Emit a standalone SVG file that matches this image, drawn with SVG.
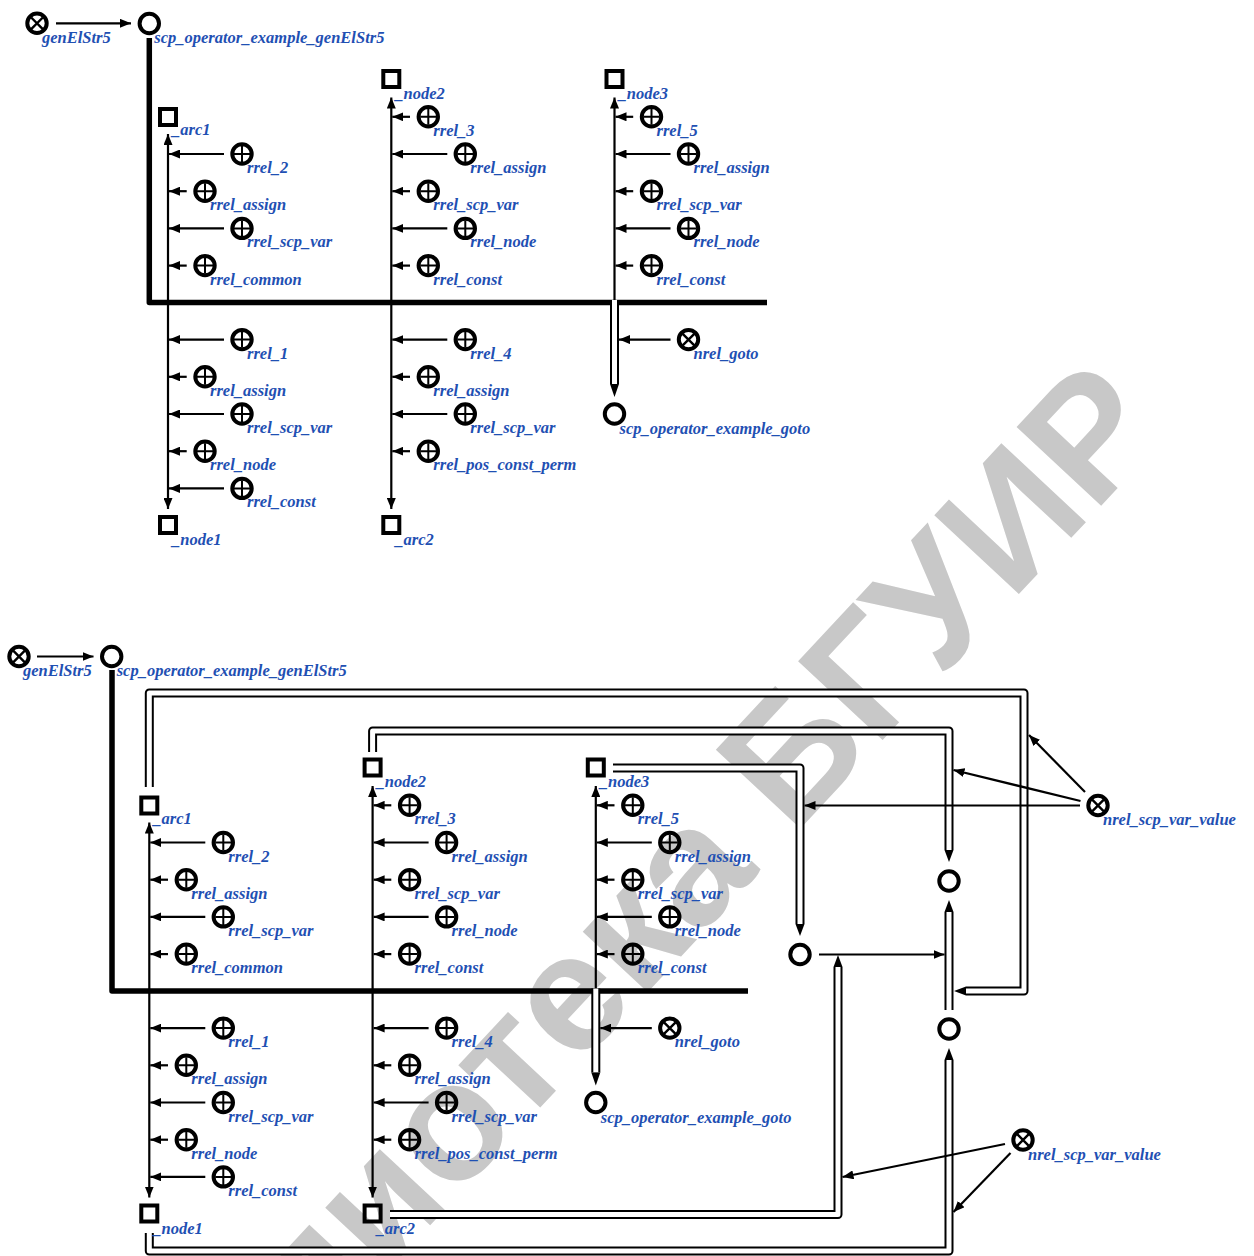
<svg xmlns="http://www.w3.org/2000/svg" xmlns:xlink="http://www.w3.org/1999/xlink" width="1254" height="1256" viewBox="0 0 1254 1256">
<style>
.lbl{font-family:"Liberation Serif","Times New Roman",serif;font-weight:bold;font-style:italic;font-size:16.5px;fill:#1f50b3}
.wm{font-family:"Liberation Sans",Arial,sans-serif;font-weight:bold;font-size:168px;fill:#c8c8c8}
.ring{fill:none;stroke:#000;stroke-width:4}
.in{fill:none;stroke:#000;stroke-width:2}
.arc{fill:none;stroke:#000;stroke-width:2.2;marker-end:url(#ah)}
.arc2{fill:none;stroke:#000;stroke-width:2.2;marker-end:url(#ah);marker-start:url(#ah)}
.thick{fill:none;stroke:#000;stroke-width:5.5;stroke-linejoin:round}
.dlb{fill:none;stroke:#000;stroke-width:9;stroke-linejoin:round}
.dlw{fill:none;stroke:#fff;stroke-width:5;stroke-linejoin:round}
.tri{fill:#000}
</style>
<defs>
<marker id="ah" markerUnits="userSpaceOnUse" markerWidth="11" markerHeight="9" refX="11" refY="4.5" orient="auto-start-reverse"><path d="M0,0 L11,4.5 L0,9 z" fill="#000"/></marker>
<g id="s-plus"><circle r="9.7" class="ring"/><path d="M-8,0 H8 M0,-8 V8" class="in"/></g>
<g id="s-x"><circle r="9.7" class="ring"/><path d="M-5.8,-5.8 L5.8,5.8 M-5.8,5.8 L5.8,-5.8" class="in" style="stroke-width:2.4"/></g>
<g id="s-o"><circle r="9.7" class="ring"/></g>
<g id="s-sq"><rect x="-8" y="-8" width="16" height="16" class="ring"/></g>
</defs>
<rect width="1254" height="1256" fill="#fff"/>
<text class="wm" text-anchor="end" transform="translate(1170,432) rotate(-47)">Библиотека БГУИР</text>

<!-- ===== TOP DIAGRAM ===== -->
<g id="top-connectors">
<path class="arc" d="M56,23.3 H131"/>
<path class="thick" d="M149.3,38 V302.5 H767"/>
<path class="arc2" d="M168,134 V509"/>
<path class="arc2" d="M391.3,97.5 V509"/>
<path class="arc" d="M614.5,302 V97.5"/>
<path class="dlb" d="M614.5,300 V384"/><path class="dlw" d="M614.5,300 V384"/>
<path class="tri" d="M610,384 L619,384 L614.5,397 z"/>
<path class="arc" d="M224,154 H169"/>
<path class="arc" d="M186.7,191.2 H169"/>
<path class="arc" d="M224,228.4 H169"/>
<path class="arc" d="M186.7,265.6 H169"/>
<path class="arc" d="M224,339.6 H169"/>
<path class="arc" d="M186.7,376.8 H169"/>
<path class="arc" d="M224,414 H169"/>
<path class="arc" d="M186.7,451.2 H169"/>
<path class="arc" d="M224,488.4 H169"/>
<path class="arc" d="M410,116.8 H392.3"/>
<path class="arc" d="M447.3,154 H392.3"/>
<path class="arc" d="M410,191.2 H392.3"/>
<path class="arc" d="M447.3,228.4 H392.3"/>
<path class="arc" d="M410,265.6 H392.3"/>
<path class="arc" d="M447.3,339.6 H392.3"/>
<path class="arc" d="M410,376.8 H392.3"/>
<path class="arc" d="M447.3,414 H392.3"/>
<path class="arc" d="M410,451.2 H392.3"/>
<path class="arc" d="M633.2,116.8 H615.5"/>
<path class="arc" d="M670.5,154 H615.5"/>
<path class="arc" d="M633.2,191.2 H615.5"/>
<path class="arc" d="M670.5,228.4 H615.5"/>
<path class="arc" d="M633.2,265.6 H615.5"/>
<path class="arc" d="M670.5,339.6 H619"/>
</g>
<g id="top-nodes">
<g id="t-genElStr5" transform="translate(37,23.3)"><use href="#s-x"/><text class="lbl" x="5" y="20">genElStr5</text></g>
<g id="t-scp-op" transform="translate(149.3,23.5)"><use href="#s-o"/><text class="lbl" x="5" y="19">scp_operator_example_genElStr5</text></g>
<g id="t-arc1" transform="translate(168,117)"><use href="#s-sq"/><text class="lbl" x="4" y="18">_arc1</text></g>
<g id="t-c1-rrel_2" transform="translate(242,154)"><use href="#s-plus"/><text class="lbl" x="5" y="19">rrel_2</text></g>
<g id="t-c1-assign" transform="translate(205,191.2)"><use href="#s-plus"/><text class="lbl" x="5" y="19">rrel_assign</text></g>
<g id="t-c1-scpvar" transform="translate(242,228.4)"><use href="#s-plus"/><text class="lbl" x="5" y="19">rrel_scp_var</text></g>
<g id="t-c1-common" transform="translate(205,265.6)"><use href="#s-plus"/><text class="lbl" x="5" y="19">rrel_common</text></g>
<g id="t-c1-rrel_1" transform="translate(242,339.6)"><use href="#s-plus"/><text class="lbl" x="5" y="19">rrel_1</text></g>
<g id="t-c1-assign2" transform="translate(205,376.8)"><use href="#s-plus"/><text class="lbl" x="5" y="19">rrel_assign</text></g>
<g id="t-c1-scpvar2" transform="translate(242,414)"><use href="#s-plus"/><text class="lbl" x="5" y="19">rrel_scp_var</text></g>
<g id="t-c1-node" transform="translate(205,451.2)"><use href="#s-plus"/><text class="lbl" x="5" y="19">rrel_node</text></g>
<g id="t-c1-const" transform="translate(242,488.4)"><use href="#s-plus"/><text class="lbl" x="5" y="19">rrel_const</text></g>
<g id="t-node1" transform="translate(168,525)"><use href="#s-sq"/><text class="lbl" x="4" y="20">_node1</text></g>
<g id="t-node2" transform="translate(391.3,79)"><use href="#s-sq"/><text class="lbl" x="4" y="19.5">_node2</text></g>
<g id="t-c2-rrel_3" transform="translate(428.3,116.8)"><use href="#s-plus"/><text class="lbl" x="5" y="19">rrel_3</text></g>
<g id="t-c2-assign" transform="translate(465.3,154)"><use href="#s-plus"/><text class="lbl" x="5" y="19">rrel_assign</text></g>
<g id="t-c2-scpvar" transform="translate(428.3,191.2)"><use href="#s-plus"/><text class="lbl" x="5" y="19">rrel_scp_var</text></g>
<g id="t-c2-node" transform="translate(465.3,228.4)"><use href="#s-plus"/><text class="lbl" x="5" y="19">rrel_node</text></g>
<g id="t-c2-const" transform="translate(428.3,265.6)"><use href="#s-plus"/><text class="lbl" x="5" y="19">rrel_const</text></g>
<g id="t-c2-rrel_4" transform="translate(465.3,339.6)"><use href="#s-plus"/><text class="lbl" x="5" y="19">rrel_4</text></g>
<g id="t-c2-assign2" transform="translate(428.3,376.8)"><use href="#s-plus"/><text class="lbl" x="5" y="19">rrel_assign</text></g>
<g id="t-c2-scpvar2" transform="translate(465.3,414)"><use href="#s-plus"/><text class="lbl" x="5" y="19">rrel_scp_var</text></g>
<g id="t-c2-pcp" transform="translate(428.3,451.2)"><use href="#s-plus"/><text class="lbl" x="5" y="19">rrel_pos_const_perm</text></g>
<g id="t-arc2" transform="translate(391.3,525)"><use href="#s-sq"/><text class="lbl" x="4" y="20">_arc2</text></g>
<g id="t-node3" transform="translate(614.5,79)"><use href="#s-sq"/><text class="lbl" x="4" y="19.5">_node3</text></g>
<g id="t-c3-rrel_5" transform="translate(651.5,116.8)"><use href="#s-plus"/><text class="lbl" x="5" y="19">rrel_5</text></g>
<g id="t-c3-assign" transform="translate(688.5,154)"><use href="#s-plus"/><text class="lbl" x="5" y="19">rrel_assign</text></g>
<g id="t-c3-scpvar" transform="translate(651.5,191.2)"><use href="#s-plus"/><text class="lbl" x="5" y="19">rrel_scp_var</text></g>
<g id="t-c3-node" transform="translate(688.5,228.4)"><use href="#s-plus"/><text class="lbl" x="5" y="19">rrel_node</text></g>
<g id="t-c3-const" transform="translate(651.5,265.6)"><use href="#s-plus"/><text class="lbl" x="5" y="19">rrel_const</text></g>
<g id="t-nrel_goto" transform="translate(688.5,339.6)"><use href="#s-x"/><text class="lbl" x="5" y="19">nrel_goto</text></g>
<g id="t-goto" transform="translate(614.5,414)"><use href="#s-o"/><text class="lbl" x="5" y="20">scp_operator_example_goto</text></g>
</g>

<!-- ===== BOTTOM DIAGRAM ===== -->
<g id="bottom-connectors">
<path class="arc" d="M37,656.5 H93.5"/>
<path class="thick" d="M112,670 V991 H748"/>
<path class="dlb" d="M149.3,787 V693 H1024 V991 H966"/><path class="dlw" d="M149.3,787 V693 H1024 V991 H966"/>
<path class="tri" d="M966,986.5 L966,995.5 L954,991 z"/>
<path class="dlb" d="M372.6,752 V731 H949 V850"/><path class="dlw" d="M372.6,752 V731 H949 V850"/>
<path class="tri" d="M944.5,850 L953.5,850 L949,862 z"/>
<path class="dlb" d="M613,768 H800 V924"/><path class="dlw" d="M613,768 H800 V924"/>
<path class="tri" d="M795.5,924 L804.5,924 L800,936 z"/>
<path class="dlb" d="M390,1214.5 H838 V967"/><path class="dlw" d="M390,1214.5 H838 V967"/>
<path class="tri" d="M833.5,967 L842.5,967 L838,955 z"/>
<path class="dlb" d="M949,1010 V912"/><path class="dlw" d="M949,1010 V912"/>
<path class="tri" d="M944.5,912 L953.5,912 L949,900 z"/>
<path class="dlb" d="M149.3,1233 V1251 H949 V1060"/><path class="dlw" d="M149.3,1233 V1251 H949 V1060"/>
<path class="tri" d="M944.5,1060 L953.5,1060 L949,1048 z"/>
<path class="arc" d="M819,954.5 H944.5"/>
<path class="arc" d="M1085,792 L1029,735"/>
<path class="arc" d="M1080.5,801 L953.5,770"/>
<path class="arc" d="M1080,805.5 H804.5"/>
<path class="arc" d="M1005,1144 L842.5,1177"/>
<path class="arc" d="M1010.5,1153 L953.5,1212"/>
<g transform="translate(-18.7,688.5)">
<path class="arc2" d="M168,134 V509"/>
<path class="arc2" d="M391.3,97.5 V509"/>
<path class="arc" d="M614.5,302 V97.5"/>
<path class="dlb" d="M614.5,300 V384"/><path class="dlw" d="M614.5,300 V384"/>
<path class="tri" d="M610,384 L619,384 L614.5,397 z"/>
<path class="arc" d="M224,154 H169"/>
<path class="arc" d="M186.7,191.2 H169"/>
<path class="arc" d="M224,228.4 H169"/>
<path class="arc" d="M186.7,265.6 H169"/>
<path class="arc" d="M224,339.6 H169"/>
<path class="arc" d="M186.7,376.8 H169"/>
<path class="arc" d="M224,414 H169"/>
<path class="arc" d="M186.7,451.2 H169"/>
<path class="arc" d="M224,488.4 H169"/>
<path class="arc" d="M410,116.8 H392.3"/>
<path class="arc" d="M447.3,154 H392.3"/>
<path class="arc" d="M410,191.2 H392.3"/>
<path class="arc" d="M447.3,228.4 H392.3"/>
<path class="arc" d="M410,265.6 H392.3"/>
<path class="arc" d="M447.3,339.6 H392.3"/>
<path class="arc" d="M410,376.8 H392.3"/>
<path class="arc" d="M447.3,414 H392.3"/>
<path class="arc" d="M410,451.2 H392.3"/>
<path class="arc" d="M633.2,116.8 H615.5"/>
<path class="arc" d="M670.5,154 H615.5"/>
<path class="arc" d="M633.2,191.2 H615.5"/>
<path class="arc" d="M670.5,228.4 H615.5"/>
<path class="arc" d="M633.2,265.6 H615.5"/>
<path class="arc" d="M670.5,339.6 H619"/>
</g>
</g>
<g id="bottom-nodes">
<g id="b-genElStr5" transform="translate(19,656.5)"><use href="#s-x"/><text class="lbl" x="4" y="19">genElStr5</text></g>
<g id="b-scp-op" transform="translate(111.7,656.5)"><use href="#s-o"/><text class="lbl" x="5" y="19">scp_operator_example_genElStr5</text></g>
<g id="b-circle1" transform="translate(800,954.5)"><use href="#s-o"/></g>
<g id="b-circle2" transform="translate(949,881)"><use href="#s-o"/></g>
<g id="b-circle3" transform="translate(949,1029)"><use href="#s-o"/></g>
<g id="b-nrel_scp_var_value1" transform="translate(1098,805.5)"><use href="#s-x"/><text class="lbl" x="5" y="19">nrel_scp_var_value</text></g>
<g id="b-nrel_scp_var_value2" transform="translate(1023,1140)"><use href="#s-x"/><text class="lbl" x="5" y="20">nrel_scp_var_value</text></g>
<g transform="translate(-18.7,688.5)">
<g id="b-arc1" transform="translate(168,117)"><use href="#s-sq"/><text class="lbl" x="4" y="18">_arc1</text></g>
<g id="b-c1-rrel_2" transform="translate(242,154)"><use href="#s-plus"/><text class="lbl" x="5" y="19">rrel_2</text></g>
<g id="b-c1-assign" transform="translate(205,191.2)"><use href="#s-plus"/><text class="lbl" x="5" y="19">rrel_assign</text></g>
<g id="b-c1-scpvar" transform="translate(242,228.4)"><use href="#s-plus"/><text class="lbl" x="5" y="19">rrel_scp_var</text></g>
<g id="b-c1-common" transform="translate(205,265.6)"><use href="#s-plus"/><text class="lbl" x="5" y="19">rrel_common</text></g>
<g id="b-c1-rrel_1" transform="translate(242,339.6)"><use href="#s-plus"/><text class="lbl" x="5" y="19">rrel_1</text></g>
<g id="b-c1-assign2" transform="translate(205,376.8)"><use href="#s-plus"/><text class="lbl" x="5" y="19">rrel_assign</text></g>
<g id="b-c1-scpvar2" transform="translate(242,414)"><use href="#s-plus"/><text class="lbl" x="5" y="19">rrel_scp_var</text></g>
<g id="b-c1-node" transform="translate(205,451.2)"><use href="#s-plus"/><text class="lbl" x="5" y="19">rrel_node</text></g>
<g id="b-c1-const" transform="translate(242,488.4)"><use href="#s-plus"/><text class="lbl" x="5" y="19">rrel_const</text></g>
<g id="b-node1" transform="translate(168,525)"><use href="#s-sq"/><text class="lbl" x="4" y="20">_node1</text></g>
<g id="b-node2" transform="translate(391.3,79)"><use href="#s-sq"/><text class="lbl" x="4" y="19.5">_node2</text></g>
<g id="b-c2-rrel_3" transform="translate(428.3,116.8)"><use href="#s-plus"/><text class="lbl" x="5" y="19">rrel_3</text></g>
<g id="b-c2-assign" transform="translate(465.3,154)"><use href="#s-plus"/><text class="lbl" x="5" y="19">rrel_assign</text></g>
<g id="b-c2-scpvar" transform="translate(428.3,191.2)"><use href="#s-plus"/><text class="lbl" x="5" y="19">rrel_scp_var</text></g>
<g id="b-c2-node" transform="translate(465.3,228.4)"><use href="#s-plus"/><text class="lbl" x="5" y="19">rrel_node</text></g>
<g id="b-c2-const" transform="translate(428.3,265.6)"><use href="#s-plus"/><text class="lbl" x="5" y="19">rrel_const</text></g>
<g id="b-c2-rrel_4" transform="translate(465.3,339.6)"><use href="#s-plus"/><text class="lbl" x="5" y="19">rrel_4</text></g>
<g id="b-c2-assign2" transform="translate(428.3,376.8)"><use href="#s-plus"/><text class="lbl" x="5" y="19">rrel_assign</text></g>
<g id="b-c2-scpvar2" transform="translate(465.3,414)"><use href="#s-plus"/><text class="lbl" x="5" y="19">rrel_scp_var</text></g>
<g id="b-c2-pcp" transform="translate(428.3,451.2)"><use href="#s-plus"/><text class="lbl" x="5" y="19">rrel_pos_const_perm</text></g>
<g id="b-arc2" transform="translate(391.3,525)"><use href="#s-sq"/><text class="lbl" x="4" y="20">_arc2</text></g>
<g id="b-node3" transform="translate(614.5,79)"><use href="#s-sq"/><text class="lbl" x="4" y="19.5">_node3</text></g>
<g id="b-c3-rrel_5" transform="translate(651.5,116.8)"><use href="#s-plus"/><text class="lbl" x="5" y="19">rrel_5</text></g>
<g id="b-c3-assign" transform="translate(688.5,154)"><use href="#s-plus"/><text class="lbl" x="5" y="19">rrel_assign</text></g>
<g id="b-c3-scpvar" transform="translate(651.5,191.2)"><use href="#s-plus"/><text class="lbl" x="5" y="19">rrel_scp_var</text></g>
<g id="b-c3-node" transform="translate(688.5,228.4)"><use href="#s-plus"/><text class="lbl" x="5" y="19">rrel_node</text></g>
<g id="b-c3-const" transform="translate(651.5,265.6)"><use href="#s-plus"/><text class="lbl" x="5" y="19">rrel_const</text></g>
<g id="b-nrel_goto" transform="translate(688.5,339.6)"><use href="#s-x"/><text class="lbl" x="5" y="19">nrel_goto</text></g>
<g id="b-goto" transform="translate(614.5,414)"><use href="#s-o"/><text class="lbl" x="5" y="20">scp_operator_example_goto</text></g>
</g>
</g>
</svg>
